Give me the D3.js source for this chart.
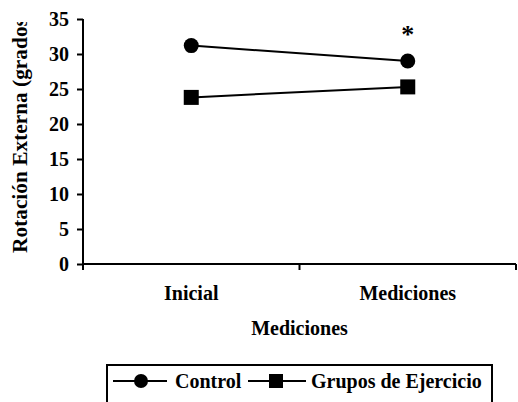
<!DOCTYPE html>
<html>
<head>
<meta charset="utf-8">
<script src="https://cdn.jsdelivr.net/npm/d3@7"></script>
<style>
  body { margin: 0; background: #fff; }
  text { font-family: "Liberation Serif", "Times New Roman", serif; font-weight: bold; fill: #000; }
</style>
</head>
<body>
<div id="viz"></div>
<script>
const categories = ['Inicial', 'Mediciones'];
const controlValues = [31.2, 29.0];
const ejercicioValues = [23.8, 25.3];
const yTicks = [0, 5, 10, 15, 20, 25, 30, 35];
const seriesNames = ['Control', 'Grupos de Ejercicio'];
const markedCategory = 'Mediciones'; // asterisk

const W = 518, H = 402;
const margin = { top: 19, right: 2, bottom: 138, left: 83 };
const width = W - margin.left - margin.right;
const height = H - margin.top - margin.bottom;
const font = '"Liberation Serif", "Times New Roman", serif';

const svg = d3.select('#viz').append('svg')
  .attr('width', W).attr('height', H);

const g = svg.append('g')
  .attr('transform', `translate(${margin.left},${margin.top})`);

const x = d3.scaleBand().domain(categories).range([0, width]);
const y = d3.scaleLinear().domain([0, 35]).range([height, 0]);

// y axis
const yAxis = g.append('g')
  .call(d3.axisLeft(y).tickValues(yTicks).tickSize(6).tickPadding(8));
yAxis.select('.domain').attr('stroke', '#000').attr('stroke-width', 2).attr('d', `M0,${height}V0`);
yAxis.selectAll('.tick line').attr('stroke', '#000').attr('stroke-width', 2);
yAxis.selectAll('.tick text')
  .style('font-size', '20px').style('font-family', font).style('font-weight', 'bold')
  .attr('dy', '0.34em');

// x axis
const xAxis = g.append('g')
  .attr('transform', `translate(0,${height})`)
  .call(d3.axisBottom(x).tickSize(0).tickPadding(22));
xAxis.select('.domain').attr('stroke', '#000').attr('stroke-width', 2).attr('d', `M0,0H${width}`);
xAxis.selectAll('.tick text')
  .style('font-size', '20px').style('font-family', font).style('font-weight', 'bold');
xAxis.selectAll('.bound')
  .data([0, width / 2, width])
  .join('line')
  .attr('x1', d => d).attr('x2', d => d)
  .attr('y1', 0).attr('y2', 6)
  .attr('stroke', '#000').attr('stroke-width', 2);

// axis titles
g.append('text')
  .attr('x', width / 2).attr('y', height + 71)
  .attr('text-anchor', 'middle')
  .style('font-size', '20px')
  .text('Mediciones');

svg.append('clipPath').attr('id', 'yclip')
  .append('rect').attr('x', 0).attr('y', 22).attr('width', 40).attr('height', 300);
svg.append('g').attr('clip-path', 'url(#yclip)')
  .append('text')
  .attr('transform', 'translate(27,253) rotate(-90)')
  .attr('text-anchor', 'start')
  .attr('textLength', 242)
  .attr('lengthAdjust', 'spacingAndGlyphs')
  .style('font-size', '20px')
  .text('Rotación Externa (grados)');

const cx = d => x(d) + x.bandwidth() / 2;
const line = d3.line().x((d, i) => cx(categories[i])).y(d => y(d));

g.append('path').datum(controlValues)
  .attr('d', line).attr('fill', 'none').attr('stroke', '#000').attr('stroke-width', 2);
g.append('path').datum(ejercicioValues)
  .attr('d', line).attr('fill', 'none').attr('stroke', '#000').attr('stroke-width', 2);

g.selectAll('.pt-c').data(controlValues).join('circle')
  .attr('cx', (d, i) => cx(categories[i])).attr('cy', d => y(d)).attr('r', 7.5).attr('fill', '#000');
g.selectAll('.pt-e').data(ejercicioValues).join('rect')
  .attr('x', (d, i) => cx(categories[i]) - 7.5).attr('y', d => y(d) - 7.5)
  .attr('width', 15).attr('height', 15).attr('fill', '#000');

// significance marker
g.append('text')
  .attr('x', cx(markedCategory)).attr('y', y(35) + 24)
  .attr('text-anchor', 'middle')
  .style('font-size', '26px')
  .text('*');

// legend
const lg = svg.append('g');
lg.append('rect')
  .attr('x', 107).attr('y', 365).attr('width', 385).attr('height', 50)
  .attr('fill', 'none').attr('stroke', '#000').attr('stroke-width', 2);
const ly = 381;
lg.append('line').attr('x1', 113).attr('x2', 167).attr('y1', ly).attr('y2', ly).attr('stroke', '#000').attr('stroke-width', 2);
lg.append('circle').attr('cx', 141).attr('cy', ly).attr('r', 7).attr('fill', '#000');
lg.append('text').attr('x', 175).attr('y', ly + 7).style('font-size', '20px').text(seriesNames[0]);
lg.append('line').attr('x1', 248).attr('x2', 306).attr('y1', ly).attr('y2', ly).attr('stroke', '#000').attr('stroke-width', 2);
lg.append('rect').attr('x', 269).attr('y', ly - 7).attr('width', 14).attr('height', 14).attr('fill', '#000');
lg.append('text').attr('x', 311).attr('y', ly + 7).style('font-size', '20px').text(seriesNames[1]);
</script>
</body>
</html>
